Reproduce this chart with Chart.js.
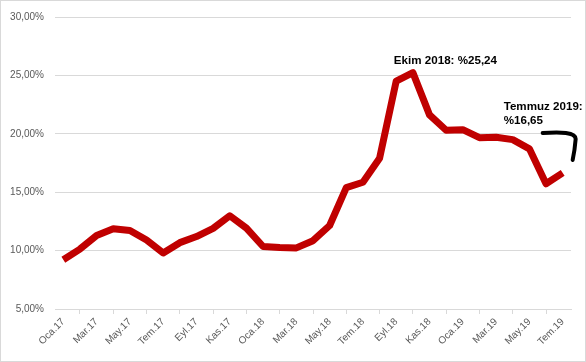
<!DOCTYPE html>
<html>
<head>
<meta charset="utf-8">
<script src="https://cdn.jsdelivr.net/npm/chart.js@4.4.1/dist/chart.umd.min.js"></script>
<style>
html,body{margin:0;padding:0;background:#fff;}
#wrap{position:relative;width:586px;height:362px;}
</style>
</head>
<body>
<div id="wrap"><canvas id="c" width="586" height="362"></canvas></div>
<script>
const categories = [
  'Oca.17','Şub.17','Mar.17','Nis.17','May.17','Haz.17','Tem.17','Ağu.17','Eyl.17','Eki.17','Kas.17','Ara.17',
  'Oca.18','Şub.18','Mar.18','Nis.18','May.18','Haz.18','Tem.18','Ağu.18','Eyl.18','Eki.18','Kas.18','Ara.18',
  'Oca.19','Şub.19','Mar.19','Nis.19','May.19','Haz.19','Tem.19'
];
const inflation = [
  9.22,10.13,11.29,11.87,11.72,10.90,9.79,10.68,11.20,11.90,12.98,11.92,
  10.35,10.26,10.23,10.85,12.15,15.39,15.85,17.90,24.52,25.24,21.62,20.30,
  20.35,19.67,19.71,19.50,18.71,15.72,16.65
];
const yTicks = [5,10,15,20,25,30];
const peakLabel = 'Ekim 2018: %25,24';
const lastLabel1 = 'Temmuz 2019:';
const lastLabel2 = '%16,65';

const decor = {
  id:'decor',
  afterDraw(chart){
    const ctx = chart.ctx;
    const xs = chart.scales.x, ys = chart.scales.y;
    ctx.save();
    // chart border
    ctx.strokeStyle = '#d9d9d9';
    ctx.lineWidth = 1;
    ctx.strokeRect(0.5,0.5,chart.width-1,chart.height-1);
    // peak annotation
    const pi = inflation.indexOf(Math.max(...inflation));
    const px = xs.getPixelForValue(pi), py = ys.getPixelForValue(inflation[pi]);
    ctx.fillStyle = '#000';
    ctx.font = 'bold 11.6px "Liberation Sans", Arial, sans-serif';
    ctx.textBaseline = 'alphabetic';
    ctx.textAlign = 'left';
    ctx.fillText(peakLabel, px - 19, py - 9);
    // last annotation
    const li = inflation.length - 1;
    const lx = xs.getPixelForValue(li), ly = ys.getPixelForValue(inflation[li]);
    ctx.fillText(lastLabel1, lx - 59, ly - 63);
    ctx.fillText(lastLabel2, lx - 59, ly - 49);
    // hand-drawn hook
    ctx.strokeStyle = '#000';
    ctx.lineWidth = 4;
    ctx.lineCap = 'round';
    ctx.lineJoin = 'round';
    ctx.beginPath();
    ctx.moveTo(lx - 20, ly - 40);
    ctx.bezierCurveTo(lx - 2, ly - 41, lx + 13, ly - 41, lx + 13, ly - 34);
    ctx.quadraticCurveTo(lx + 12, ly - 22, lx + 10, ly - 13);
    ctx.stroke();
    ctx.restore();
  }
};

new Chart(document.getElementById('c'), {
  type:'line',
  data:{
    labels:categories,
    datasets:[{
      data:inflation,
      borderColor:'#C00000',
      borderWidth:7,
      pointRadius:0,
      tension:0,
      borderJoinStyle:'round',
      borderCapStyle:'butt',
      fill:false
    }]
  },
  options:{
    responsive:false,
    animation:false,
    layout:{padding:{left:0,right:15,top:15,bottom:0}},
    plugins:{legend:{display:false},tooltip:{enabled:false}},
    scales:{
      x:{
        offset:true,
        grid:{drawOnChartArea:false,offset:true,tickLength:5,color:'#d9d9d9'},
        border:{color:'#d9d9d9'},
        ticks:{
          autoSkip:false,maxRotation:45,minRotation:45,padding:2,
          color:'#595959',font:{family:'"Liberation Sans", Arial, sans-serif',size:10},
          callback:function(v,i){return i%2===0 ? categories[i] : null;}
        },
        afterFit(s){s.height = 53;}
      },
      y:{
        min:5,max:30,
        afterBuildTicks(s){s.ticks = yTicks.map(v=>({value:v}));},
        grid:{color:'#d9d9d9',drawTicks:false},
        border:{display:false},
        ticks:{
          padding:11,color:'#595959',
          font:{family:'"Liberation Sans", Arial, sans-serif',size:10},
          callback:v=>v.toFixed(2).replace('.',',')+'%'
        },
        afterFit(s){s.width = 55;}
      }
    }
  },
  plugins:[decor]
});
</script>
</body>
</html>
